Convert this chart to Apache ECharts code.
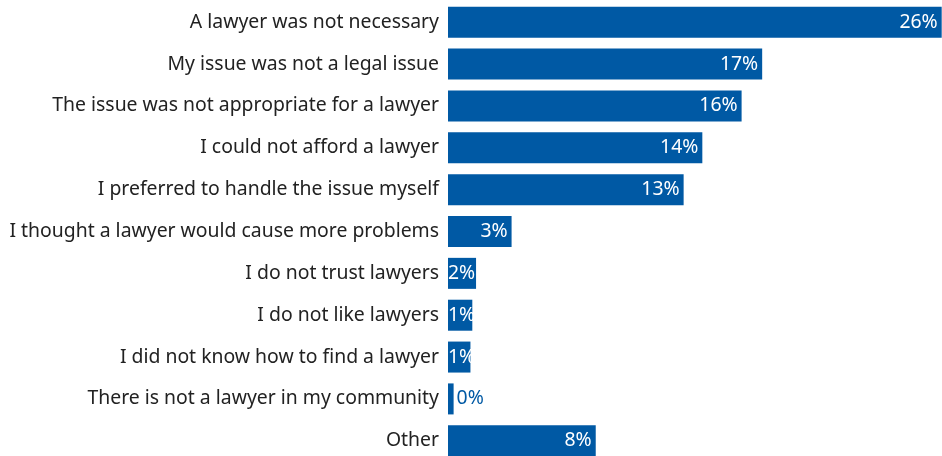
<!DOCTYPE html>
<html>
<head>
<meta charset="utf-8">
<script src="https://cdn.jsdelivr.net/npm/echarts@6/dist/echarts.min.js"></script>
<style>
  html, body { margin: 0; padding: 0; background: #fff; }
  #chart { width: 942px; height: 456px; }
</style>
</head>
<body>
<div id="chart"></div>
<script>
var categories = [
  'A lawyer was not necessary',
  'My issue was not a legal issue',
  'The issue was not appropriate for a lawyer',
  'I could not afford a lawyer',
  'I preferred to handle the issue myself',
  'I thought a lawyer would cause more problems',
  'I do not trust lawyers',
  'I do not like lawyers',
  'I did not know how to find a lawyer',
  'There is not a lawyer in my community',
  'Other'
];
var values = [26.4, 16.8, 15.7, 13.6, 12.6, 3.4, 1.5, 1.3, 1.2, 0.3, 7.9];

var blue = '#0059a4';

// small bars: label sits from the bar start, empty bar: label outside in blue
function labelFor(v) {
  if (v < 1) {
    return { position: 'right', distance: 3, color: blue };
  }
  if (v < 2) {
    return { position: 'insideLeft', distance: 0 };
  }
  return { position: 'insideRight', distance: 4 };
}

var chart = echarts.init(document.getElementById('chart'));
chart.setOption({
  animation: false,
  grid: {
    left: 448, right: 0.3, top: 1.3, height: 460.4,
    containLabel: false,
    outerBoundsMode: 'none'
  },
  xAxis: {
    type: 'value',
    min: 0,
    max: 26.4,
    show: false
  },
  yAxis: {
    type: 'category',
    inverse: true,
    data: categories,
    axisLine: { show: false },
    axisTick: { show: false },
    axisLabel: {
      margin: 9,
      fontFamily: 'Noto Sans',
      fontSize: 19.4,
      color: '#222'
    }
  },
  series: [{
    type: 'bar',
    barWidth: 31,
    itemStyle: { color: blue },
    label: {
      show: true,
      color: '#fff',
      fontFamily: 'Noto Sans',
      fontSize: 19.4,
      formatter: function (p) { return Math.round(p.value) + '%'; }
    },
    data: values.map(function (v) {
      return { value: v, label: labelFor(v) };
    })
  }]
});
</script>
</body>
</html>
